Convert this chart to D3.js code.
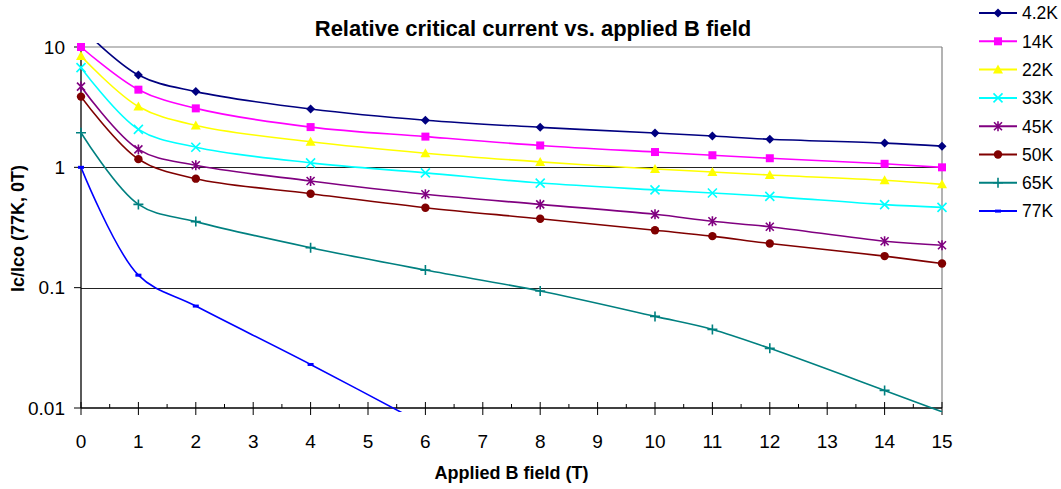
<!DOCTYPE html>
<html>
<head>
<meta charset="utf-8">
<script src="https://cdn.jsdelivr.net/npm/d3@7"></script>
<style>
  html, body { margin: 0; padding: 0; background: #fff; }
  svg { display: block; font-family: "Liberation Sans", Arial, sans-serif; }
</style>
</head>
<body>
<svg id="chart" width="1061" height="489"></svg>
<script>
// ---- data ----
const fieldT = [0, 1, 2, 4, 6, 8, 10, 11, 12, 14, 15];
const field77 = [0, 1, 2, 4, 6];
const seriesNames = ["4.2K", "14K", "22K", "33K", "45K", "50K", "65K", "77K"];
const v4_2K = [14.5, 5.85, 4.26, 3.05, 2.46, 2.15, 1.93, 1.82, 1.71, 1.59, 1.50];
const v14K  = [10.0, 4.42, 3.09, 2.16, 1.80, 1.52, 1.34, 1.26, 1.19, 1.07, 1.00];
const v22K  = [8.4, 3.2, 2.23, 1.63, 1.31, 1.11, 0.97, 0.914, 0.863, 0.78, 0.722];
const v33K  = [6.74, 2.07, 1.47, 1.09, 0.90, 0.74, 0.65, 0.612, 0.574, 0.49, 0.465];
const v45K  = [4.69, 1.41, 1.04, 0.77, 0.597, 0.492, 0.407, 0.356, 0.321, 0.243, 0.225];
const v50K  = [3.87, 1.17, 0.805, 0.604, 0.462, 0.374, 0.30, 0.268, 0.233, 0.183, 0.159];
const v65K  = [1.94, 0.492, 0.354, 0.215, 0.140, 0.0937, 0.0577, 0.045, 0.0313, 0.014, 0.0093];
const v77K  = [1.0, 0.127, 0.0703, 0.023, 0.0072];
const xTicks = d3.range(0, 16);
const yTicks = [0.01, 0.1, 1, 10];
const yTickLabels = ["0.01", "0.1", "1", "10"];

const colors = ["#000080", "#FF00FF", "#FFFF00", "#00FFFF", "#800080", "#800000", "#008080", "#0000FF"];
const markers = ["diamond", "square", "triangle", "x", "star", "circle", "plus", "dash"];
const allValues = [v4_2K, v14K, v22K, v33K, v45K, v50K, v65K, v77K];
const allX = [fieldT, fieldT, fieldT, fieldT, fieldT, fieldT, fieldT, field77];

const series = seriesNames.map((name, i) => ({
  name, color: colors[i], marker: markers[i],
  points: allX[i].map((x, j) => ({ x, y: allValues[i][j] }))
}));

// ---- layout ----
const svg = d3.select("#chart");
const pL = 81, pR = 942, pT = 47, pB = 408;
const x = d3.scaleLinear().domain([0, 15]).range([pL, pR]);
const y = d3.scaleLog().domain([0.01, 10]).range([pB, pT]);

// clip
svg.append("defs").append("clipPath").attr("id", "clip")
  .append("rect").attr("x", pL).attr("y", pT - 4).attr("width", pR - pL + 1).attr("height", pB - pT + 8);

// plot border top/right
svg.append("line").attr("x1", pL).attr("x2", pR).attr("y1", pT).attr("y2", pT)
  .attr("stroke", "#808080").attr("stroke-width", 1.2);
svg.append("line").attr("x1", pR).attr("x2", pR).attr("y1", pT).attr("y2", pB)
  .attr("stroke", "#808080").attr("stroke-width", 1.2);

// gridlines
svg.append("g").selectAll("line").data([0.1, 1]).join("line")
  .attr("x1", pL).attr("x2", pR)
  .attr("y1", d => Math.round(y(d)) + 0.5).attr("y2", d => Math.round(y(d)) + 0.5)
  .attr("stroke", "#222").attr("stroke-width", 1);

// x axis
const xAxis = svg.append("g").attr("transform", `translate(0,${pB})`);
xAxis.append("line").attr("x1", pL).attr("x2", pR).attr("stroke", "#000").attr("stroke-width", 1.3);
xAxis.selectAll("line.minor").data(d3.range(0.5, 15, 1)).join("line").attr("class", "minor")
  .attr("x1", d => x(d)).attr("x2", d => x(d)).attr("y1", -4).attr("y2", 0)
  .attr("stroke", "#000").attr("stroke-width", 1);
xAxis.selectAll("line.major").data(xTicks).join("line").attr("class", "major")
  .attr("x1", d => x(d)).attr("x2", d => x(d)).attr("y1", -6).attr("y2", 7)
  .attr("stroke", "#000").attr("stroke-width", 1);
xAxis.selectAll("text").data(xTicks).join("text")
  .attr("x", d => x(d)).attr("y", 40).attr("text-anchor", "middle")
  .attr("font-size", 19).attr("fill", "#000").text(d => d);

// y axis
const yAxis = svg.append("g").attr("transform", `translate(${pL},0)`);
yAxis.append("line").attr("y1", pT).attr("y2", pB).attr("stroke", "#000").attr("stroke-width", 1.3);
yAxis.selectAll("line.tick").data(yTicks).join("line").attr("class", "tick")
  .attr("x1", -7).attr("x2", 0).attr("y1", d => y(d)).attr("y2", d => y(d))
  .attr("stroke", "#000").attr("stroke-width", 1);
yAxis.selectAll("text").data(yTicks).join("text")
  .attr("x", -16).attr("y", d => y(d)).attr("dy", "0.35em").attr("text-anchor", "end")
  .attr("font-size", 19).attr("fill", "#000").text((d, i) => yTickLabels[i]);

// titles
svg.append("text").attr("x", 533).attr("y", 36).attr("text-anchor", "middle")
  .attr("font-size", 22).attr("font-weight", "bold").text("Relative critical current vs. applied B field");
svg.append("text").attr("x", (pL + pR) / 2).attr("y", 479).attr("text-anchor", "middle")
  .attr("font-size", 18).attr("font-weight", "bold").text("Applied B field (T)");
svg.append("text").attr("transform", `translate(24,${(pT + pB) / 2 + 1}) rotate(-90)`)
  .attr("text-anchor", "middle").attr("font-size", 18).attr("font-weight", "bold").text("Ic/Ico (77K, 0T)");

// lines
const line = d3.line().x(d => x(d.x)).y(d => y(d.y)).curve(d3.curveCatmullRom.alpha(0.5));
const gLines = svg.append("g").attr("clip-path", "url(#clip)");
gLines.selectAll("path").data(series).join("path")
  .attr("d", d => line(d.points)).attr("fill", "none")
  .attr("stroke", d => d.color).attr("stroke-width", 1.6);

// markers
function drawMarker(g, type, color, cx, cy) {
  const s = 4.5;
  if (type === "diamond") {
    g.append("path").attr("d", `M${cx},${cy - s}L${cx + s},${cy}L${cx},${cy + s}L${cx - s},${cy}Z`).attr("fill", color);
  } else if (type === "square") {
    g.append("rect").attr("x", cx - 4).attr("y", cy - 4).attr("width", 8).attr("height", 8).attr("fill", color);
  } else if (type === "triangle") {
    g.append("path").attr("d", `M${cx},${cy - 5}L${cx + 5},${cy + 4}L${cx - 5},${cy + 4}Z`).attr("fill", color);
  } else if (type === "x") {
    g.append("path").attr("d", `M${cx - 4.5},${cy - 4.5}L${cx + 4.5},${cy + 4.5}M${cx + 4.5},${cy - 4.5}L${cx - 4.5},${cy + 4.5}`)
      .attr("stroke", color).attr("stroke-width", 1.6);
  } else if (type === "star") {
    g.append("path").attr("d", `M${cx - 4},${cy - 4}L${cx + 4},${cy + 4}M${cx + 4},${cy - 4}L${cx - 4},${cy + 4}M${cx},${cy - 5}L${cx},${cy + 5}`)
      .attr("stroke", color).attr("stroke-width", 1.6);
  } else if (type === "circle") {
    g.append("circle").attr("cx", cx).attr("cy", cy).attr("r", 4.2).attr("fill", color);
  } else if (type === "plus") {
    g.append("path").attr("d", `M${cx - 5},${cy}L${cx + 5},${cy}M${cx},${cy - 5}L${cx},${cy + 5}`)
      .attr("stroke", color).attr("stroke-width", 1.6);
  } else if (type === "dash") {
    g.append("rect").attr("x", cx - 3).attr("y", cy - 1.5).attr("width", 6).attr("height", 3).attr("fill", color);
  }
}
const gMarks = svg.append("g");
series.forEach(s => {
  s.points.filter(p => p.y >= 0.0099 && p.y <= 10.01).forEach(p => {
    drawMarker(gMarks, s.marker, s.color, x(p.x), y(p.y));
  });
});

// legend
const legend = svg.append("g");
series.forEach((s, i) => {
  const ly = 13 + i * 28.3;
  legend.append("line").attr("x1", 979).attr("x2", 1017).attr("y1", ly).attr("y2", ly)
    .attr("stroke", s.color).attr("stroke-width", 2);
  drawMarker(legend, s.marker, s.color, 998, ly);
  legend.append("text").attr("x", 1022).attr("y", ly).attr("dy", "0.36em")
    .attr("font-size", 17.5).attr("fill", "#000").text(s.name);
});
</script>
</body>
</html>
